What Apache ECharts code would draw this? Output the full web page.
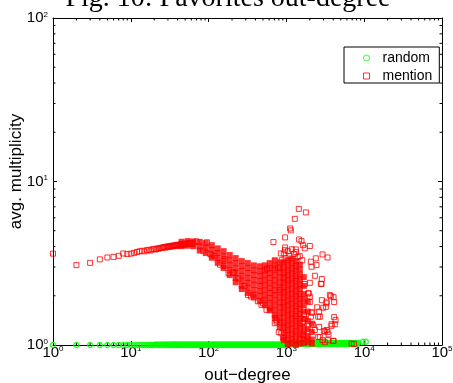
<!DOCTYPE html>
<html><head><meta charset="utf-8">
<script src="https://cdn.jsdelivr.net/npm/echarts@6/dist/echarts.min.js"></script>
<style>html,body{margin:0;padding:0;background:#fff}#c{width:453px;height:383px}</style>
</head><body><div id="c"></div>
<script>
const titleText = 'Fig. 10: Favorites out-degree';
const xName = 'out\u2212degree';
const yName = 'avg. multiplicity';
const seriesNames = ['random', 'mention'];
const seriesColors = ['#00ff00', '#ff0000'];
const xRange = [1, 100000];
const yRange = [1, 100];
const xDecades = [1, 10, 100, 1000, 10000];
const yDecades = [1, 10];

// random (green circles): values grouped by avg. multiplicity level
const randomLevels = [1.0, 1.006, 1.015, 1.03, 1.047];
const randomXByLevel = [
  [1,2,3,4,5,6,7,8,9,10,11,12,13,14,15,16,17,18,19,20,22,24,26,28,30,32,34,36,38,40,42,45,48,51,54,57,60,64,68,72,76,81,86,91,97,103,109,115,122,130,138,146,155,164,174,185,196,208,221,234,248,263,279,296,314,333,354,375,398,422,448,476,505,535,568,602,639,678,719,763,809,859,911,966],
  [21,23,25,27,29,31,33,35,37,39,41,44,46,49,52,55,59,62,66,70,74,79,83,88,94,100,106,112,119,126,134,142,150,160,169,179,190,202,214,227,241,256,271,288,305,324,343,364,387,410,435,462,490,520,551,585,620,658,698,741,786,834,884,938,995],
  [1025,1088,1154,1224,1298,1377,1461,1550,1645,1745,1851,1964,2083,2210,2344,2487,2638,2799,2970,3150,3342,3546,3762,3991,4234,4491,4765,5055,5363,5690,6036,6404,6794,7207,7646,8112],
  [1056,1120,1188,1261,1337,1419,1505,1597,1694,1797,1906,2022,2145,2276,2415,2562,2718,2883,3059,3245,3443,3652,3875,4110,4361,4626,4908,5207,5524,5860,6217,6596,6997,7424,7876,8300],
  [9600,10500]
];

// mention (red squares), individually readable points: [out-degree, avg. multiplicity]
const mentionData = [
[1,3.62],[2,3.08],[3,3.18],[4,3.34],[5,3.43],[6,3.46],[7,3.51],[8,3.63],[9,3.6],[10,3.62],[11,3.66],[12,3.71],[13,3.74],[14,3.77],[15,3.74],[16,3.8],[17,3.82],[18,3.78],[19,3.85],[20,3.86],[21,3.84],[22,3.9],[23,3.88],[24,3.93],[25,3.92],[26,3.95],[27,3.97],[28,3.94],[29,4.0],[30,3.98],[31,4.01],[32,4.03],[33,3.99],[34,4.05],[35,4.02],[36,4.06],[37,4.03],[38,4.08],[39,4.05],[40,4.1],[41,4.06],[42,4.09],[43,4.12],[44,4.08],[45,4.13],[46,4.1],[47,4.15],[48,4.11],[49,4.16],[50,4.13],[52,4.18],[54,4.14],[56,4.2],[58,4.16],[60,4.22],[62,4.15],[64,4.2],
[70,4.3],[85,3.78],[95,4.25],[105,3.6],[120,3.5],[140,3.1],[160,3.35],[180,2.75],[206,2.77],[211,2.78],[240,2.55],[290,2.3],[320,2.02],[350,1.98],[430,1.85],[500,1.8],[560,2.9],
[926,3.62],[980,3.4],[1043,3.75],[1100,3.5],[1175,3.85],[1250,3.6],[1322,3.7],[1400,3.45],[1487,3.5],[870,3.3],[1600,3.3],
[1444,6.80],[1778,6.47],[1283,5.91],[1117,5.16],[1140,5.02],[962,4.55],[682,4.26],[1456,4.42],[1564,4.32],[1640,4.08],[1726,3.90],[2000,4.03],[962,3.95],[962,3.80],[847,3.63],[1322,3.84],
[2917,3.58],[3381,3.43],[2389,3.39],[2438,3.08],[2061,3.23],[2104,3.01],[565,2.94],[2322,2.65],[2856,2.53],[2773,2.37],[709,2.94],[782,2.97],[1941,2.07],[2000,1.83],[3620,2.02],[4037,1.96],
[2856,1.88],[3282,1.80],[2966,1.69],[4111,1.48],[4285,1.42],[3805,1.31],[3282,1.235],[2692,1.49],[2483,1.70],[2143,1.58],[2061,1.49],[2636,1.29],[3030,1.22],[3484,1.16],[2560,1.12],[3121,1.04],[3990,1.06],[7379,1.014],
[2831,2.36],[3728,1.99],[4111,1.83],[3282,1.84],[3214,1.71],[2636,1.60],[2560,1.49],[2104,1.58],[1690,1.53],[1726,1.44],[1611,1.37],[3805,1.34],[4198,1.34],[2206,1.33],[2322,1.235],[3121,1.21],[3381,1.20],[1640,1.15],[1815,1.135],[2692,1.12],[2917,1.07],[4037,1.06],[3412,1.07],[6887,1.02],
[478,1.76],[555,1.64],[746,1.39],[798,1.20],[907,1.10],[1052,1.02],[2000,2.40],[1726,2.36],[1901,2.07],[2000,1.97],[934,2.56],[822,2.17],[746,1.42],[860,1.18],[709,1.36]
];

// mention, dense core of the cloud: out-degree columns and the values stacked in each
const mentionCoreX = [45,54,64,77,92,110,131,156,187,223,267,319,381,455,527,611,709,822,926,1043,1175,1322,1487,1675,1885,2123];
const mentionCoreY = [
[4.28,4.02],
[4.32,4.05],
[4.30,4.02],
[4.27,4.0,3.78],
[4.2,3.92,3.65],
[4.08,3.82,3.55,3.42],
[3.9,3.65,3.40,3.18],
[3.75,3.5,3.26,3.04,2.96],
[3.55,3.3,3.08,2.88,2.68],
[3.4,3.17,2.96,2.76,2.57,2.42],
[3.26,3.04,2.84,2.65,2.47,2.3,2.2],
[3.17,2.96,2.76,2.57,2.4,2.24,2.08],
[3.07,2.87,2.68,2.5,2.33,2.17,2.03,1.95],
[3.03,2.83,2.64,2.46,2.3,2.14,2.0,1.86],
[3.07,2.86,2.67,2.49,2.32,2.16,2.01,1.88,1.75],
[3.17,2.95,2.75,2.57,2.39,2.23,2.08,1.94,1.81,1.68,1.63],
[3.3,3.08,2.87,2.67,2.49,2.32,2.16,2.02,1.88,1.75,1.63,1.52,1.46],
[3.2,2.98,2.78,2.59,2.41,2.25,2.1,1.95,1.82,1.7,1.58,1.47,1.37,1.28],
[3.2,2.98,2.78,2.59,2.42,2.25,2.1,1.95,1.82,1.7,1.58,1.47,1.37,1.28,1.19,1.11,1.07],
[3.3,3.07,2.86,2.67,2.49,2.32,2.16,2.01,1.87,1.75,1.63,1.52,1.41,1.32,1.23,1.15,1.07,1.01],
[3.38,3.15,2.94,2.74,2.55,2.38,2.21,2.06,1.92,1.79,1.67,1.55,1.45,1.35,1.26,1.17,1.09,1.02],
[3.26,3.04,2.83,2.64,2.46,2.29,2.13,1.99,1.85,1.73,1.61,1.5,1.4,1.3,1.21,1.13,1.05,1.0],
[3.1,2.9,2.7,2.52,2.35,2.2,2.05,1.91,1.78,1.66,1.55,1.45,1.35,1.26,1.17,1.09,1.02],
[2.6,2.3,2.05,1.9,1.75,1.6,1.45,1.3,1.2,1.1,1.03],
[1.85,1.6,1.4,1.25,1.12,1.04],
[1.35,1.2,1.08,1.02]
];

const randomData = [];
randomXByLevel.forEach((xs, i) => xs.forEach(x => randomData.push([x, randomLevels[i]])));
const coreData = [];
mentionCoreX.forEach((x, i) => mentionCoreY[i].forEach(y => coreData.push([x, y])));

// minor tick marks (axis decoration)
const minorTickData = [];
xDecades.forEach(d => { for (let m = 2; m <= 9; m++) minorTickData.push([d * m, yRange[0], 0]); });
yDecades.forEach(d => { for (let m = 2; m <= 9; m++) minorTickData.push([xRange[0], d * m, 1]); });

const FONT = 'Liberation Sans';
const labelRich = {
  b: { fontFamily: FONT, fontSize: 15, lineHeight: 15, color: '#000', verticalAlign: 'bottom' },
  s: { fontFamily: FONT, fontSize: 8, lineHeight: 8, color: '#000', verticalAlign: 'top', padding: [0, 0, 10, 0] }
};
const expFmt = v => '{b|10}{s|' + Math.round(Math.log10(v)) + '}';

function baseAxis(extra) {
  return Object.assign({
    type: 'log', logBase: 10,
    axisLine: { show: true, onZero: false, lineStyle: { color: '#000', width: 1 } },
    axisTick: { show: true, inside: true, length: 4, lineStyle: { color: '#000', width: 1 } },
    splitLine: { show: false },
    minorTick: { show: false },
    minorSplitLine: { show: false }
  }, extra);
}

const hollow = (c, w) => ({ color: 'rgba(0,0,0,0)', borderColor: c, borderWidth: w || 1 });

const chart = echarts.init(document.getElementById('c'), null, { renderer: 'canvas' });
chart.setOption({
  animation: false,
  backgroundColor: '#fff',
  graphic: [{
    type: 'text', x: 228, y: -1, silent: true,
    style: {
      text: titleText, align: 'center', verticalAlign: 'middle',
      font: '28px "Liberation Serif"', fill: '#000'
    }
  }],
  legend: {
    data: [
      { name: seriesNames[0], icon: 'circle', itemStyle: hollow(seriesColors[0]) },
      { name: seriesNames[1], icon: 'rect', itemStyle: hollow(seriesColors[1]) }
    ],
    orient: 'vertical', left: 344, top: 47,
    padding: [4, 7, 0, 19], itemGap: 4, itemWidth: 6, itemHeight: 6,
    borderColor: '#000', borderWidth: 1, backgroundColor: '#fff',
    selectedMode: false,
    textStyle: { fontFamily: FONT, fontSize: 14, color: '#000', padding: [0, 0, 0, 8] }
  },
  grid: { left: 53, right: 11, top: 18, bottom: 38, containLabel: false, outerBoundsMode: 'none' },
  xAxis: [
    baseAxis({
      min: xRange[0], max: xRange[1], splitNumber: 5, position: 'bottom',
      axisLabel: { formatter: expFmt, rich: labelRich, margin: 0 },
      name: xName, nameLocation: 'middle', nameGap: 22, nameMoveOverlap: false,
      nameTextStyle: { fontFamily: FONT, fontSize: 17, color: '#000' }
    }),
    baseAxis({
      min: xRange[0], max: xRange[1], splitNumber: 5, position: 'top',
      axisLabel: { show: false }
    })
  ],
  yAxis: [
    baseAxis({
      min: yRange[0], max: yRange[1], splitNumber: 2, position: 'left',
      axisLabel: { formatter: expFmt, rich: labelRich, margin: 5 },
      name: yName, nameLocation: 'middle', nameGap: 28, nameMoveOverlap: false,
      nameTextStyle: { fontFamily: FONT, fontSize: 17, color: '#000', padding: [0, 0, 0, 20] }
    }),
    baseAxis({
      min: yRange[0], max: yRange[1], splitNumber: 2, position: 'right',
      axisLabel: { show: false }
    })
  ],
  series: [
    {
      name: seriesNames[0], type: 'scatter', data: randomData, symbol: 'circle', symbolSize: 5,
      itemStyle: hollow(seriesColors[0], 1.5), clip: false, z: 3, silent: true
    },
    {
      name: seriesNames[1], type: 'scatter', data: mentionData, symbol: 'rect', symbolSize: 5,
      itemStyle: hollow(seriesColors[1]), clip: false, z: 4, silent: true
    },
    {
      name: seriesNames[1], type: 'scatter', data: coreData, symbol: 'rect', symbolSize: 6,
      itemStyle: { color: seriesColors[1] }, clip: false, z: 4, silent: true
    },
    {
      type: 'custom', data: minorTickData, encode: { x: 0, y: 1 }, silent: true, clip: false, z: 1,
      renderItem: function (params, api) {
        const kind = api.value(2);
        const L = 2.5;
        const st = { stroke: '#000', lineWidth: 1 };
        if (kind === 0) {
          const v = api.value(0);
          const b = api.coord([v, yRange[0]]);
          const t = api.coord([v, yRange[1]]);
          return { type: 'group', children: [
            { type: 'line', shape: { x1: b[0], y1: b[1], x2: b[0], y2: b[1] - L }, style: st },
            { type: 'line', shape: { x1: t[0], y1: t[1], x2: t[0], y2: t[1] + L }, style: st }
          ] };
        }
        const v = api.value(1);
        const l = api.coord([xRange[0], v]);
        const r = api.coord([xRange[1], v]);
        return { type: 'group', children: [
          { type: 'line', shape: { x1: l[0], y1: l[1], x2: l[0] + L, y2: l[1] }, style: st },
          { type: 'line', shape: { x1: r[0], y1: r[1], x2: r[0] - L, y2: r[1] }, style: st }
        ] };
      }
    }
  ]
});
</script>
</body></html>
